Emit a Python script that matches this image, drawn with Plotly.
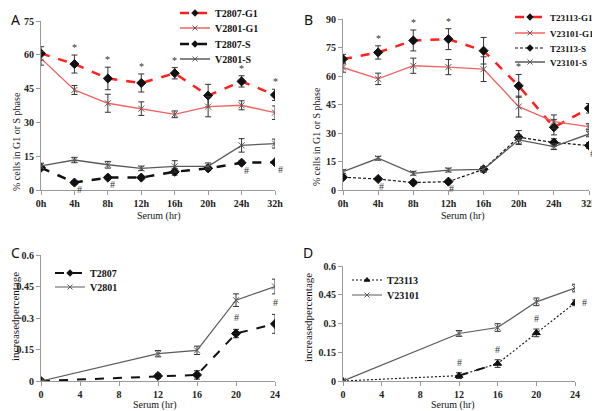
import plotly.graph_objects as go

# ---- datos ----
hours = ["0h", "4h", "8h", "12h", "16h", "20h", "24h", "32h"]

a_t_g1 = [60.6, 55.9, 49.5, 47.5, 51.8, 41.9, 48.2, 42.2]
a_t_g1_err = [3, 4, 5, 4, 2.5, 5, 2.5, 2.5]
a_v_g1 = [58.4, 44.4, 38.5, 36.1, 33.6, 37.0, 37.6, 34.3]
a_v_g1_err = [3, 2, 4, 3, 1.5, 4.5, 2, 3]
a_t_s = [9.9, 3.3, 5.5, 5.5, 8.1, 9.6, 12.1, 12.3]
a_t_s_err = [1, 0.8, 0.8, 0.8, 1.5, 1, 0.8, 0.8]
a_v_s = [10.7, 13.3, 11.2, 9.6, 10.5, 10.5, 19.8, 20.6]
a_v_s_err = [1.2, 1.2, 1.5, 1, 2.5, 1.5, 3, 2]
a_star = ["4h", "8h", "12h", "16h", "24h", "32h"]
a_hash = ["4h", "8h", "24h", "32h"]

b_t_g1 = [68.9, 72.4, 78.7, 79.4, 73.3, 54.8, 33.0, 43.0]
b_t_g1_err = [2.5, 3.5, 5.5, 5.5, 7, 6, 4, 2.5]
b_v_g1 = [64.5, 58.5, 65.4, 64.7, 63.6, 43.9, 36.0, 33.4]
b_v_g1_err = [2.5, 3, 4, 4, 6.5, 5.5, 3.5, 1.5]
b_t_s = [6.7, 5.8, 3.9, 4.4, 10.9, 27.8, 25.0, 23.4]
b_t_s_err = [0.8, 0.8, 0.8, 0.8, 1.2, 3.5, 2, 1.5]
b_v_s = [9.7, 16.7, 8.8, 10.5, 10.9, 26.4, 22.8, 29.5]
b_v_s_err = [1, 1, 1, 1, 1.5, 2.5, 1.5, 1.5]
b_star = ["4h", "8h", "12h", "20h"]
b_hash = ["4h", "12h", "32h"]

serum_hr = [0, 12, 16, 20, 24]
c_t = [0, 0.024, 0.029, 0.226, 0.272]
c_t_err = [0, 0.01, 0.02, 0.02, 0.045]
c_v = [0, 0.13, 0.146, 0.385, 0.45]
c_v_err = [0, 0.015, 0.02, 0.03, 0.035]
c_hash = [20, 24]

d_t = [0, 0.028, 0.091, 0.251, 0.408]
d_t_err = [0, 0.015, 0.02, 0.02, 0.015]
d_v = [0, 0.248, 0.279, 0.413, 0.485]
d_v_err = [0, 0.015, 0.02, 0.02, 0.02]
d_hash = [12, 16, 20, 24]

SERIF = "Liberation Serif"
ROJO = "#ff1f1f"
ROJO_CLARO = "#f26060"
NEGRO = "#111111"
GRIS = "#5a5a5a"

# la pagina deja 8px de margen en el body: la figura mide 592x403 y se ubica desde (8, 8)
ANCHO, ALTO, OFF = 592, 403, 8


def px(x):
    return (x - OFF) / ANCHO


def py(y):
    return 1 - (y - OFF) / ALTO


# cada entrada de leyenda va en su propia leyenda para poder fijar el interlineado
leyendas = {}


def ley(x, y, size):
    nombre = "legend" if not leyendas else "legend%d" % (len(leyendas) + 1)
    leyendas[nombre] = dict(x=px(x), y=py(y), xanchor="left", yanchor="middle",
                            itemwidth=30, bgcolor="rgba(0,0,0,0)",
                            font=dict(family=SERIF, size=size, color="#111", weight="bold"))
    return nombre


def barras(err):
    return dict(type="data", array=err, color="#333333", thickness=1, width=3)


def serie(x, y, err, nombre, color, ancho, dash, simbolo, xa, ya, leyenda, mcolor=NEGRO, msize=7):
    # traza real (sin leyenda) + traza vacia solo para la leyenda, con marcador chico
    real = go.Scatter(
        x=x, y=y, name=nombre, mode="lines+markers", showlegend=False,
        line=dict(color=color, width=ancho, dash=dash),
        marker=dict(symbol=simbolo, size=msize, color=mcolor,
                    line=dict(color=mcolor, width=1)),
        error_y=barras(err), xaxis=xa, yaxis=ya,
    )
    muestra = go.Scatter(
        x=[None], y=[None], name=nombre, mode="lines+markers",
        line=dict(color=color, width=ancho, dash=dash),
        marker=dict(symbol=simbolo, size=5, color=mcolor, line=dict(color=mcolor, width=1)),
        xaxis=xa, yaxis=ya, legend=leyenda,
    )
    return [real, muestra]


fig = go.Figure()

trazas = []
# Panel A
trazas += serie(hours, a_t_g1, a_t_g1_err, "T2807-G1", ROJO, 2.5, "dash", "diamond", "x", "y", ley(175, 13, 10))
trazas += serie(hours, a_v_g1, a_v_g1_err, "V2801-G1", ROJO_CLARO, 1.3, "solid", "x-thin-open", "x", "y", ley(175, 28, 10), GRIS, 6)
trazas += serie(hours, a_t_s, a_t_s_err, "T2807-S", NEGRO, 2.5, "dash", "diamond", "x", "y", ley(175, 44, 10))
trazas += serie(hours, a_v_s, a_v_s_err, "V2801-S", GRIS, 1.3, "solid", "x-thin-open", "x", "y", ley(175, 59, 10), GRIS, 6)

# Panel B
trazas += serie(hours, b_t_g1, b_t_g1_err, "T23113-G1", ROJO, 2.5, "dash", "diamond", "x2", "y2", ley(510, 17, 9))
trazas += serie(hours, b_v_g1, b_v_g1_err, "V23101-G1", ROJO_CLARO, 1.3, "solid", "x-thin-open", "x2", "y2", ley(510, 33, 9), GRIS, 6)
trazas += serie(hours, b_t_s, b_t_s_err, "T23113-S", NEGRO, 1.2, "3px,2px", "diamond", "x2", "y2", ley(510, 48, 9))
trazas += serie(hours, b_v_s, b_v_s_err, "V23101-S", GRIS, 1.3, "solid", "x-thin-open", "x2", "y2", ley(510, 62, 9), GRIS, 6)

# Panel C
trazas += serie(serum_hr, c_t, c_t_err, "T2807", NEGRO, 2, "dash", "diamond", "x3", "y3", ley(50, 273, 10))
trazas += serie(serum_hr, c_v, c_v_err, "V2801", GRIS, 1.2, "solid", "x-thin-open", "x3", "y3", ley(50, 287, 10), GRIS, 6)

# Panel D (el tramo 12-16 va con guion grueso)
trazas.append(go.Scatter(x=serum_hr[1:3], y=d_t[1:3], mode="lines", showlegend=False,
                         line=dict(color=NEGRO, width=2, dash="dash"), xaxis="x4", yaxis="y4"))
trazas += serie(serum_hr, d_t, d_t_err, "T23113", NEGRO, 1.1, "2px,2px", "triangle-up", "x4", "y4", ley(347, 280, 10), NEGRO, 7)
trazas += serie(serum_hr, d_v, d_v_err, "V23101", GRIS, 1.2, "solid", "x-thin-open", "x4", "y4", ley(347, 295, 10), GRIS, 6)

for t in trazas:
    fig.add_trace(t)

anots = []
marca = dict(font=dict(family=SERIF, size=10, color="#333"), showarrow=False, xanchor="center")

for h in a_star:
    i = hours.index(h)
    anots.append(dict(x=h, y=a_t_g1[i] + a_t_g1_err[i], xref="x", yref="y", text="*",
                      yanchor="bottom", yshift=0, **marca))
for h in a_hash:
    i = hours.index(h)
    anots.append(dict(x=h, y=a_t_s[i] - a_t_s_err[i], xref="x", yref="y", text="#",
                      yanchor="top", yshift=2, xshift=5, **marca))
for h in b_star:
    i = hours.index(h)
    anots.append(dict(x=h, y=b_t_g1[i] + b_t_g1_err[i], xref="x2", yref="y2", text="*",
                      yanchor="bottom", yshift=0, **marca))
for h in b_hash:
    i = hours.index(h)
    anots.append(dict(x=h, y=b_t_s[i] - b_t_s_err[i], xref="x2", yref="y2", text="#",
                      yanchor="top", yshift=2, xshift=3, **marca))
for h in c_hash:
    i = serum_hr.index(h)
    anots.append(dict(x=h, y=c_t[i] + c_t_err[i], xref="x3", yref="y3", text="#",
                      yanchor="bottom", yshift=4, **marca))
for h in d_hash:
    i = serum_hr.index(h)
    if h == d_hash[-1]:
        anots.append(dict(x=h, y=d_t[i], xref="x4", yref="y4", text="#", showarrow=False,
                          font=dict(family=SERIF, size=10, color="#333"),
                          yanchor="middle", xanchor="left", xshift=5))
    else:
        anots.append(dict(x=h, y=d_t[i] + d_t_err[i], xref="x4", yref="y4", text="#",
                          yanchor="bottom", yshift=3, **marca))

# letras de panel
for letra, x, y in [("A", 9, 1), ("B", 302, 0), ("C", 9, 241), ("D", 301, 241)]:
    anots.append(dict(text=letra, x=px(x), y=py(max(y, OFF)), xref="paper", yref="paper",
                      xanchor="left", yanchor="top", showarrow=False,
                      font=dict(family="Noto Sans", size=14, color="#111")))

# titulos de ejes
titulo = dict(xref="paper", yref="paper", showarrow=False, xanchor="center", yanchor="middle",
              font=dict(family=SERIF, size=10, color="#111"))
titulo11 = dict(titulo, font=dict(family=SERIF, size=11, color="#111"))
anots.append(dict(text="% cells in G1 or S phase", x=px(16), y=py(142), textangle=-90, **titulo))
anots.append(dict(text="% cells in G1 or S phase", x=px(316), y=py(137), textangle=-90, **titulo))
anots.append(dict(text="increasedpercentage", x=px(15), y=py(317), textangle=-90, **titulo11))
anots.append(dict(text="increasedpercentage", x=px(308), y=py(318), textangle=-90, **titulo11))
anots.append(dict(text="Serum (hr)", x=px(159), y=py(216), **titulo))
anots.append(dict(text="Serum (hr)", x=px(463), y=py(216), **titulo))
anots.append(dict(text="Serum (hr)", x=px(155), y=py(405), **titulo))
anots.append(dict(text="Serum (hr)", x=px(453), y=py(405), **titulo))

eje = dict(showgrid=False, zeroline=False, showline=True, linecolor="#9a9a9a", linewidth=1,
           ticks="outside", ticklen=4, tickcolor="#9a9a9a", automargin=False,
           tickfont=dict(family=SERIF, size=10, color="#222", weight="bold"))

fig.update_layout(
    width=ANCHO, height=ALTO,
    margin=dict(l=0, r=0, t=0, b=0, autoexpand=False),
    paper_bgcolor="white", plot_bgcolor="white",
    xaxis=dict(domain=[px(41), px(275)], type="category", range=[0, 7], anchor="y", **eje),
    yaxis=dict(domain=[py(190), py(21)], range=[0, 75], dtick=15, anchor="x", **eje),
    xaxis2=dict(domain=[px(343), px(589)], type="category", range=[0, 7], anchor="y2", **eje),
    yaxis2=dict(domain=[py(190), py(19)], range=[0, 90], dtick=15, anchor="x2", **eje),
    xaxis3=dict(domain=[px(41), px(275)], range=[0, 24], dtick=4, anchor="y3", **eje),
    yaxis3=dict(domain=[py(381), py(255)], range=[0, 0.6], dtick=0.15, anchor="x3", **eje),
    xaxis4=dict(domain=[px(343), px(575)], range=[0, 24], dtick=4, anchor="y4", **eje),
    yaxis4=dict(domain=[py(381), py(266)], range=[0, 0.6], dtick=0.15, anchor="x4", **eje),
    annotations=anots,
    showlegend=True,
    **leyendas,
)

fig.write_html("out.html")
